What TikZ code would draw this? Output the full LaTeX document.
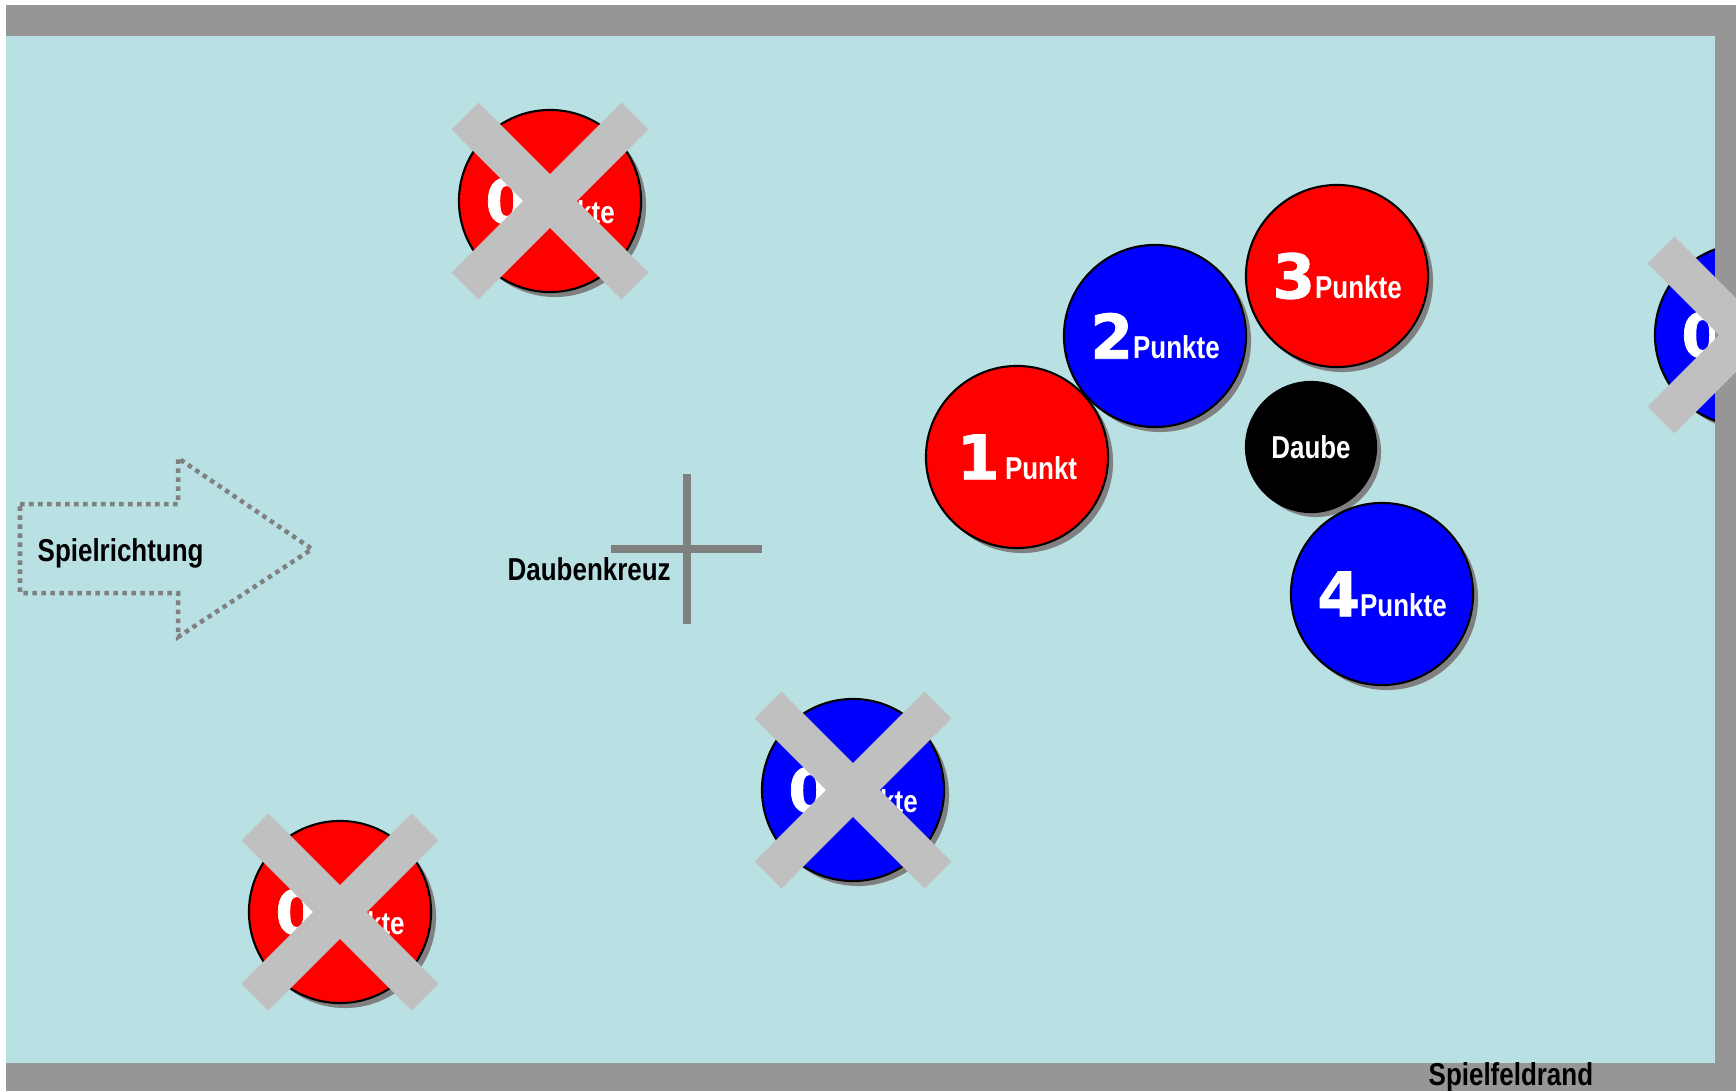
\documentclass[tikz,border=0pt]{standalone}
\usepackage{fontspec}
\setmainfont{Liberation Sans}
\newfontfamily\narrowfont{Liberation Sans}[FakeStretch=0.82]
\newfontfamily\numfont{DejaVu Sans}[FakeBold=1.2]
\usetikzlibrary{shadows}
\definecolor{feld}{RGB}{185,224,227}
\definecolor{rand}{RGB}{150,150,150}
\definecolor{chipred}{RGB}{255,0,0}
\definecolor{chipblue}{RGB}{0,0,255}
\definecolor{strikegray}{RGB}{192,192,192}
\definecolor{markgray}{RGB}{128,128,128}
\newcommand\lbl{\narrowfont\bfseries\fontsize{9pt}{10pt}\selectfont}
\newcommand\chiptext[2]{{\numfont\bfseries\fontsize{17.5pt}{18pt}\selectfont #1}{\lbl #2}}
\tikzset{
  chip/.style={circle,draw=black,line width=0.6pt,minimum size=1.82cm,inner sep=0pt,text=white,
    drop shadow={shadow xshift=0.05cm,shadow yshift=-0.05cm,fill=markgray,opacity=1}},
  redchip/.style={chip,fill=chipred},
  bluechip/.style={chip,fill=chipblue},
  strike/.style={draw=strikegray,line width=10.8pt},
  caption/.style={anchor=base west,inner sep=0pt},
}

\begin{document}
\begin{tikzpicture}[x=0.01cm,y=-0.01cm]
\clip (0,0) rectangle (1736,1091);
\fill[white] (0,0) rectangle (1736,1091);
\fill[feld] (6,36) rectangle (1715,1063);
\node[bluechip] (c4) at (1746,335) {\chiptext{0}{Punkte}};
\fill[rand] (6,5) rectangle (1736,36);
\fill[rand] (1715,5) rectangle (1736,1091);
\fill[rand] (6,1063) rectangle (1736,1091);
\draw[markgray,line width=0.045cm,dash pattern=on 0.045cm off 0.045cm] (20,504) -- (178,504) -- (178,458) -- (312,549) -- (178,637) -- (178,593) -- (20,593) -- cycle;
\node[caption] (richtung) at (37,561) {\lbl Spielrichtung};
\draw[markgray,line width=0.08cm] (611,549) -- (762,549);
\draw[markgray,line width=0.08cm] (687,474) -- (687,624);
\node[caption] (kreuz) at (507,580) {\lbl Daubenkreuz};
\node[caption] (rand) at (1428,1085) {\lbl Spielfeldrand};
\node[redchip] (c1) at (550,201) {\chiptext{0}{Punkte}};
\node[bluechip] (c2) at (853,790) {\chiptext{0}{Punkte}};
\node[redchip] (c3) at (340,912) {\chiptext{0}{Punkte}};
\node[redchip] (p1) at (1017,457) {\chiptext{1}{\,Punkt}};
\node[bluechip] (p2) at (1155,336) {\chiptext{2}{Punkte}};
\node[redchip] (p3) at (1337,276) {\chiptext{3}{Punkte}};
\node[chip,fill=black,minimum size=1.3cm] (daube) at (1311,447) {\lbl Daube};
\node[bluechip] (p4) at (1382,594) {\chiptext{4}{Punkte}};
\foreach \c in {c1,c2,c3,c4} {
  \draw[strike] ([shift={(-85,-85)}]\c.center) -- ([shift={(85,85)}]\c.center);
  \draw[strike] ([shift={(85,-85)}]\c.center) -- ([shift={(-85,85)}]\c.center);
}
\end{tikzpicture}
\end{document}
